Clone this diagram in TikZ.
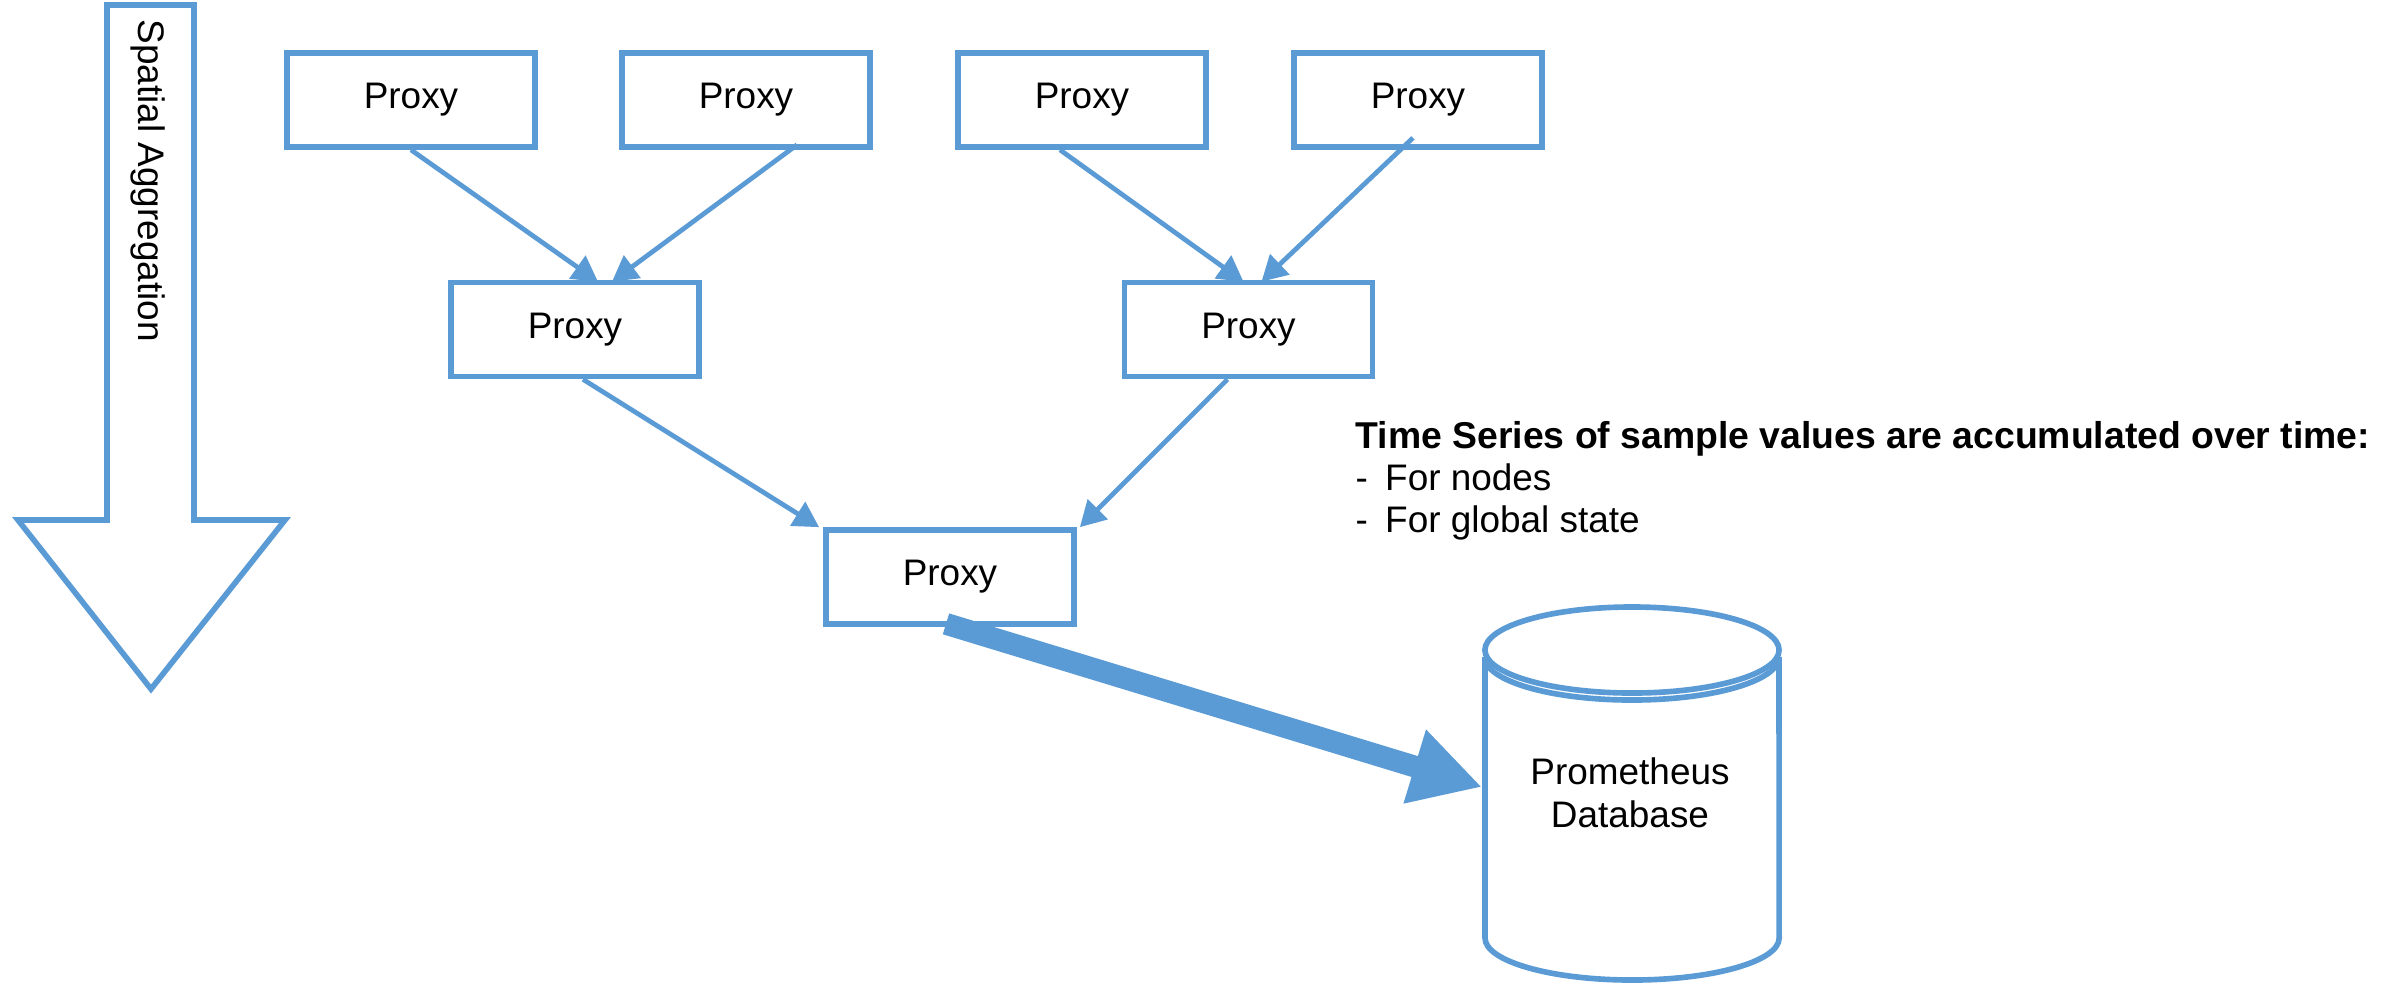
\documentclass[tikz,border=0pt]{standalone}
\usepackage{fontspec}
\setmainfont{Liberation Sans}
\usetikzlibrary{arrows.meta,calc,shadows}
\definecolor{linkblue}{HTML}{5B9BD5}
\begin{document}
\begin{tikzpicture}[x=0.01cm,y=-0.01cm,
  every node/.style={font=\fontsize{10.5}{12}\selectfont},
  proxybox/.style={draw=linkblue, line width=1.6pt, fill=white,
    minimum width=2.48cm, minimum height=0.94cm, inner sep=0pt,
    drop shadow={shadow xshift=0.8pt, shadow yshift=-0.8pt, opacity=0.15}},
  link/.style={draw=linkblue, line width=1.35pt,
    -{Triangle[length=7.2pt,width=7.8pt]}},
  biglink/.style={draw=linkblue, line width=6.2pt,
    -{Triangle[length=20pt,width=20.5pt]}},
  outline/.style={draw=linkblue, line width=1.6pt, fill=white}]

\useasboundingbox[fill=white] (0,0) rectangle (2399,990);

% downward block arrow with its caption
\path[outline] (107,5) -- (194,5) -- (194,520) -- (285,520) -- (151,689)
  -- (18,520) -- (107,520) -- cycle;
\node[rotate=-90, anchor=west, inner sep=0pt] (spatial) at (148,19) {Spatial Aggregation};

% proxy tree
\node[proxybox] (p1) at (411,100) {Proxy};
\node[proxybox] (p2) at (746,100) {Proxy};
\node[proxybox] (p3) at (1082,100) {Proxy};
\node[proxybox] (p4) at (1418,100) {Proxy};
\node[proxybox] (p5) at (575,329.5) {Proxy};
\node[proxybox] (p6) at (1248.5,329.5) {Proxy};
\node[proxybox] (p7) at (950,577) {Proxy};

\draw[link] (p1.south) -- ($(p5.north)+(23,2)$);
\draw[link] ($(p2.south)+(51,-5)$) -- ($(p5.north)+(37,2)$);
\draw[link] ($(p3.south)+(-22,0)$) -- ($(p6.north)+(-5,2)$);
\draw[link] ($(p4.south)+(-5,-12)$) -- ($(p6.north)+(13,2)$);
\draw[link] ($(p5.south)+(8,0)$) -- ($(p7.north west)+(-4,0)$);
\draw[link] ($(p6.south)+(-21,0)$) -- ($(p7.north east)+(3,0)$);

% database cylinder
\path[outline] (1485,657) -- (1485,938)
  arc[start angle=180, end angle=360, x radius=1.47cm, y radius=0.42cm]
  -- (1779,657)
  arc[start angle=360, end angle=180, x radius=1.47cm, y radius=0.43cm];
\path[outline] (1632,650) ellipse [x radius=1.47cm, y radius=0.43cm];
\node[align=center, inner sep=0pt, font=\fontsize{10.5}{12.2}\selectfont] (db)
  at (1630,793) {Prometheus\\Database};
\coordinate (dbin) at (1482,787);

\draw[biglink] ($(p7.south)+(-4,-3)$) -- (dbin);

% note
\node[anchor=north west, align=left, inner sep=0pt,
  font=\fontsize{10.5}{11.95}\selectfont] (note) at (1355,421)
  {{\fontsize{10.62}{11.95}\selectfont\bfseries Time Series of sample values are accumulated over time:}\\
   \makebox[8.4pt][l]{-}For nodes\\
   \makebox[8.4pt][l]{-}For global state};
\end{tikzpicture}
\end{document}
